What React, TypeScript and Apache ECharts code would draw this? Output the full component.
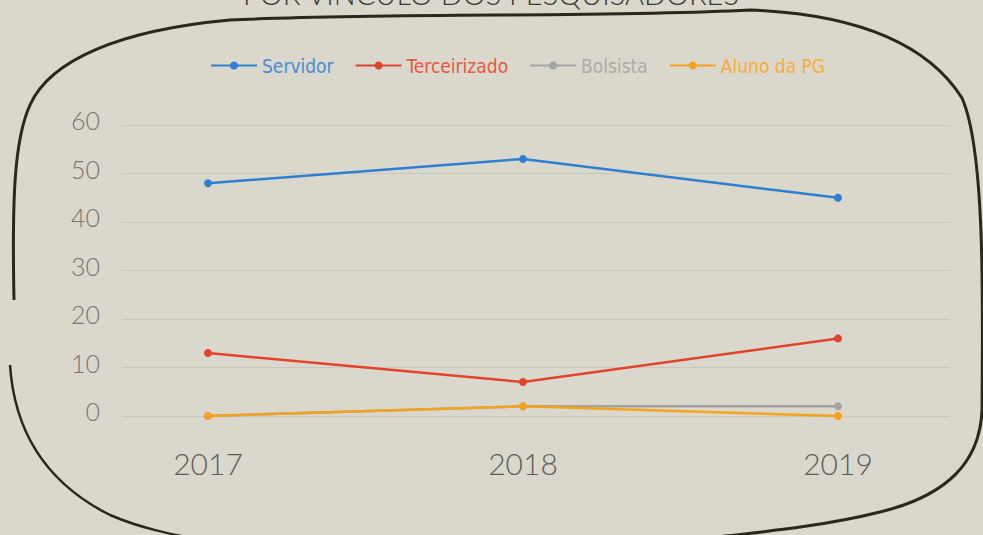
import React, { useEffect, useRef } from "react";
import * as echarts from "echarts";

const years = ["2017", "2018", "2019"];
const seriesNames = ["Servidor", "Terceirizado", "Bolsista", "Aluno da PG"];
const servidor = [48, 53, 45];
const terceirizado = [13, 7, 16];
const bolsista = [0, 2, 2];
const alunoPG = [0, 2, 0];
const colors = ["#2f7fd1", "#e0452b", "#a3a3a1", "#f6a21e"];
const legendTextColors = ["#4b8bd2", "#e35a3e", "#adaba6", "#f7ad3a"];
const title = "POR VÍNCULO DOS PESQUISADORES";

const borderTop =
  "M 14 300 C 12 200 14 140 30 105 C 50 60 120 30 230 20 C 400 12 600 18 750 10 C 850 14 925 40 962 98 C 985 150 983 300 982 410 C 980 460 950 495 880 512 C 820 527 760 532 690 540";
const borderBottom =
  "M 10 365 C 14 425 40 480 110 515 C 140 528 170 534 210 542";

let registered = false;
function ensureShapes() {
  if (registered) return;
  registered = true;
  echarts.graphic.registerShape("borderTop", echarts.graphic.extendPath(borderTop, {}));
  echarts.graphic.registerShape("borderBottom", echarts.graphic.extendPath(borderBottom, {}));
}

const narrow = "'Liberation Sans Narrow', 'DejaVu Sans Condensed', 'Open Sans', sans-serif";
const thin = "Lato, 'Open Sans', sans-serif";

export default function App() {
  const ref = useRef<HTMLDivElement>(null);
  useEffect(() => {
    if (!ref.current) return;
    ensureShapes();
    const chart = echarts.init(ref.current, undefined, { renderer: "svg" });
    const data = [servidor, terceirizado, bolsista, alunoPG];
    chart.setOption({
      animation: false,
      backgroundColor: "#dad7cd",
      graphic: [
        {
          type: "borderTop",
          x: 0,
          y: 0,
          silent: true,
          style: { fill: null, stroke: "#2b271d", lineWidth: 3 },
        },
        {
          type: "borderBottom",
          x: 0,
          y: 0,
          silent: true,
          style: { fill: null, stroke: "#2b271d", lineWidth: 2.5 },
        },
        {
          type: "text",
          left: "center",
          top: -21,
          silent: true,
          style: {
            text: title,
            fill: "#3a3832",
            font: "300 29px Lato",
          },
        },
      ],
      legend: {
        left: 210,
        top: 56,
        padding: 0,
        itemWidth: 46,
        itemHeight: 10,
        itemGap: 21,
        textStyle: { fontFamily: narrow, fontSize: 19 },
        data: seriesNames.map((n, i) => ({ name: n, textStyle: { color: legendTextColors[i] } })),
      },
      grid: [
        { left: 122, right: 33, top: 125, bottom: 119 },
        { left: 208, right: 145, top: 125, bottom: 119 },
      ],
      xAxis: [
        { type: "value", gridIndex: 0, show: false, min: 0, max: 1 },
        {
          type: "category",
          gridIndex: 1,
          data: years,
          boundaryGap: false,
          axisLine: { show: false },
          axisTick: { show: false },
          splitLine: { show: false },
          axisLabel: {
            margin: 32,
            color: "#5f5d57",
            fontFamily: thin,
            fontWeight: 300,
            fontSize: 30,
          },
        },
      ],
      yAxis: [
        {
          type: "value",
          gridIndex: 0,
          min: 0,
          max: 60,
          interval: 10,
          axisLine: { show: false },
          axisTick: { show: false },
          splitLine: { lineStyle: { color: "#c9c6bc", width: 1 } },
          axisLabel: {
            margin: 22,
            color: "#77756f",
            fontFamily: thin,
            fontWeight: 300,
            fontSize: 25,
            verticalAlign: "bottom",
            lineHeight: 30,
            padding: [0, 0, -10, 0],
          },
        },
        { type: "value", gridIndex: 1, min: 0, max: 60, interval: 10, show: false },
      ],
      series: seriesNames.map((n, i) => ({
        name: n,
        type: "line",
        xAxisIndex: 1,
        yAxisIndex: 1,
        data: data[i],
        symbol: "circle",
        symbolSize: 8,
        color: colors[i],
        lineStyle: { width: 2.5, color: colors[i] },
        itemStyle: { color: colors[i] },
      })),
    });
    return () => chart.dispose();
  }, []);
  return (
    <div
      ref={ref}
      style={{ position: "fixed", left: 0, top: 0, width: 983, height: 535 }}
    />
  );
}
